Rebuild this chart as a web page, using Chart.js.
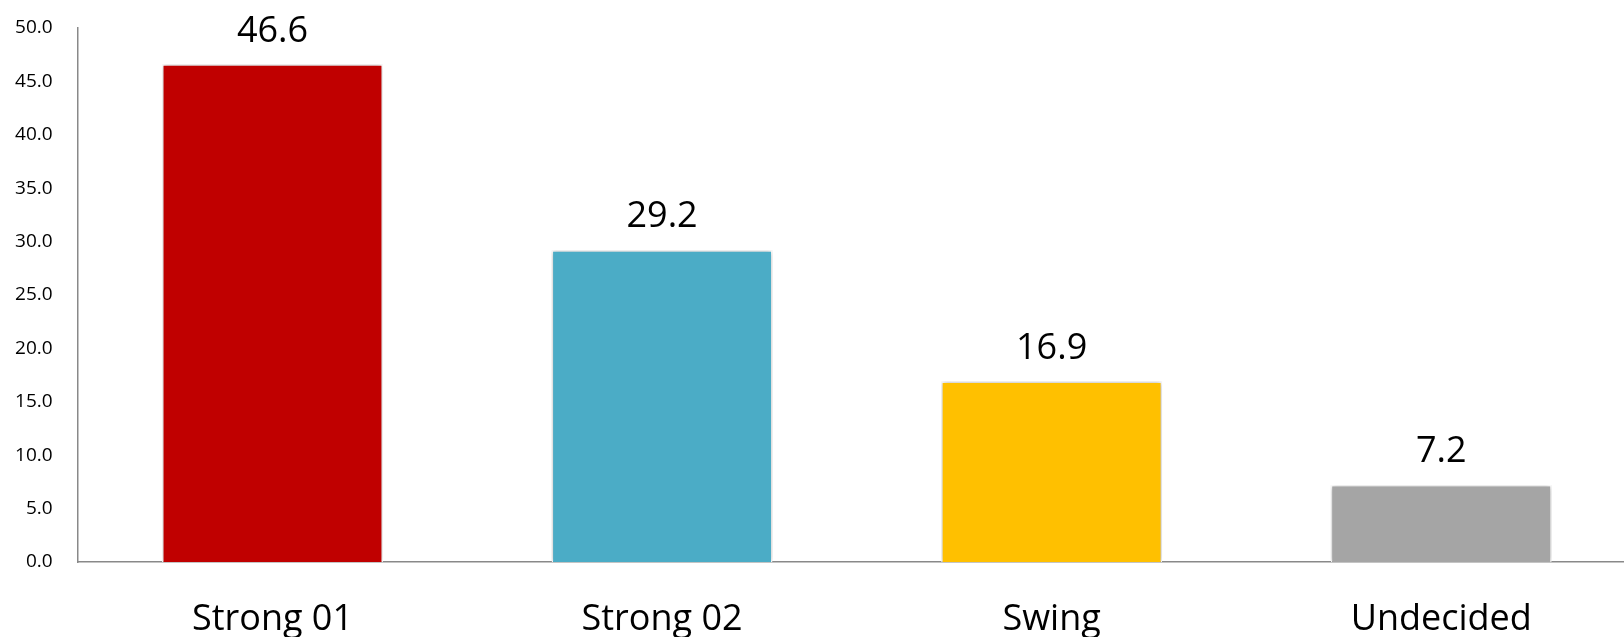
<!DOCTYPE html>
<html>
<head>
<meta charset="utf-8">
<script src="https://cdn.jsdelivr.net/npm/chart.js@4/dist/chart.umd.min.js"></script>
<style>
    html, body { margin: 0; padding: 0; background: #fff; overflow: hidden; }
    #wrap { width: 1640px; height: 637px; }
</style>
</head>
<body>
<div id="wrap"><canvas id="chart1"></canvas></div>
<script>
// values
const categories = ["Strong 01", "Strong 02", "Swing", "Undecided"];
const shares = [46.6, 29.2, 16.9, 7.2];
const barColors = ["#C00000", "#4BACC6", "#FFC000", "#A5A5A5"];
const yTicks = [0, 5, 10, 15, 20, 25, 30, 35, 40, 45, 50];

const fontFamily = "'Open Sans', 'Liberation Sans', sans-serif";

// soft shadow round the bars
const barShadow = {
    id: "barShadow",
    beforeDatasetsDraw(chart) {
        const ctx = chart.ctx;
        ctx.save();
        ctx.shadowColor = "rgba(0,0,0,0.35)";
        ctx.shadowBlur = 5;
        ctx.shadowOffsetX = 0;
        ctx.shadowOffsetY = 0;
    },
    afterDatasetsDraw(chart) {
        chart.ctx.restore();
    }
};

// value labels above the bars
const valueLabels = {
    id: "valueLabels",
    afterDraw(chart) {
        const ctx = chart.ctx;
        const meta = chart.getDatasetMeta(0);
        ctx.save();
        ctx.font = "36px " + fontFamily;
        ctx.fillStyle = "#000";
        ctx.textAlign = "center";
        ctx.textBaseline = "middle";
        meta.data.forEach(function (bar, i) {
            ctx.fillText(shares[i].toFixed(1), bar.x, bar.y - 33);
        });
        ctx.restore();
    }
};

new Chart(document.getElementById("chart1"), {
    type: "bar",
    data: {
        labels: categories,
        datasets: [{
            data: shares,
            backgroundColor: barColors,
            borderColor: "#ffffff",
            borderWidth: 1.5,
            barPercentage: 0.567,
            categoryPercentage: 1.0
        }]
    },
    options: {
        responsive: true,
        maintainAspectRatio: false,
        animation: false,
        layout: { padding: { top: 28, right: 4, left: 0, bottom: 0 } },
        plugins: {
            legend: { display: false },
            tooltip: { enabled: false }
        },
        scales: {
            x: {
                grid: { display: false, drawTicks: false },
                border: { color: "#898989", width: 1.5 },
                ticks: {
                    color: "#000",
                    padding: 36,
                    font: { family: fontFamily, size: 36 }
                },
                afterFit(scale) { scale.height = 75; }
            },
            y: {
                min: 0,
                max: 50,
                afterBuildTicks(scale) {
                    scale.ticks = yTicks.map(v => ({ value: v }));
                },
                grid: { display: false, drawTicks: false },
                border: { color: "#898989", width: 1.5 },
                ticks: {
                    color: "#000",
                    padding: 25,
                    font: { family: fontFamily, size: 19 },
                    callback: v => Number(v).toFixed(1)
                },
                afterFit(scale) {
                    scale.width = 77.7;
                    scale.paddingTop = 0;
                }
            }
        }
    },
    plugins: [barShadow, valueLabels]
});
</script>
</body>
</html>
